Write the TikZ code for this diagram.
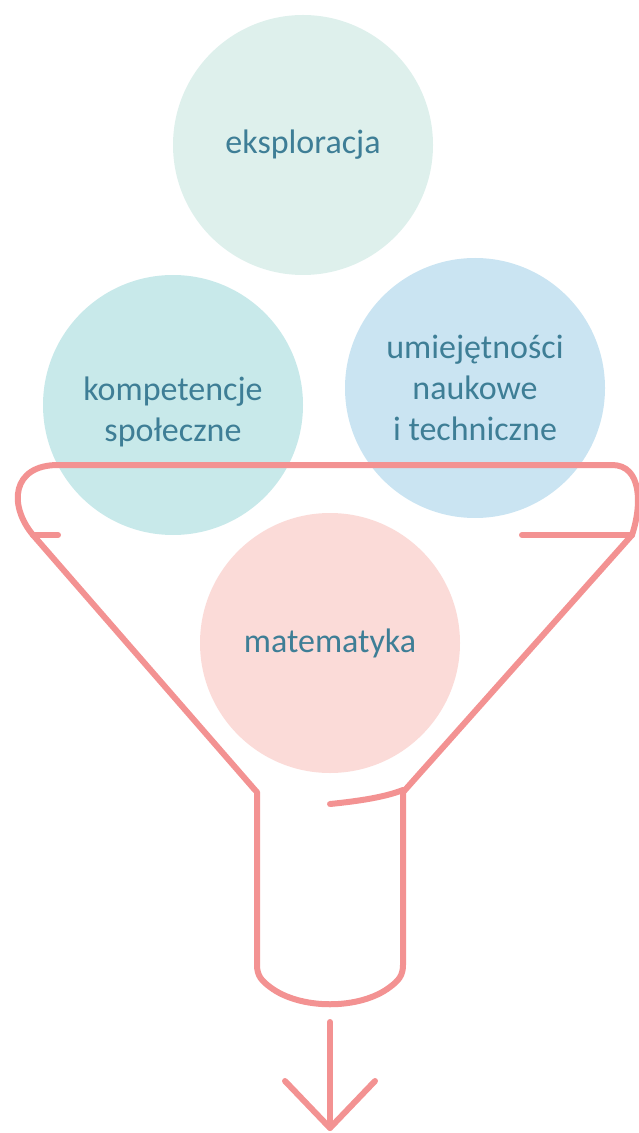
\documentclass[tikz,border=0pt]{standalone}
\usepackage{fontspec}
\setmainfont{Carlito}
\usetikzlibrary{positioning, arrows.meta}
\tikzset{
    >=Stealth,
    every node/.style={rounded corners=2pt}
}

\begin{document}
\begin{tikzpicture}[x=0.5pt, y=-0.5pt]
  % soft pastel colours (RGB)
  \definecolor{exploColor}{RGB}{222,240,236}  % mint
  \definecolor{socialColor}{RGB}{200,233,234} % aqua
  \definecolor{techColor}{RGB}{202,228,242}   % sky
  \definecolor{mathColor}{RGB}{251,219,216}   % blush
  \definecolor{funnelColor}{RGB}{243,146,146} % salmon
  \definecolor{labelColor}{RGB}{62,126,150}   % teal-blue text

  % common styles
  \tikzset{
    skill/.style={
      circle,
      minimum size=130pt,
      draw=none,
      align=center,
      inner sep=0pt,
      text=labelColor,
      font=\fontsize{17}{20.3}\selectfont
    },
    skilltext/.style={
      align=center,
      text=labelColor,
      font=\fontsize{17}{20.3}\selectfont
    },
    funnel/.style={
      draw=funnelColor,
      line width=3pt,
      line cap=round,
      line join=round
    }
  }

  \useasboundingbox (0,0) rectangle (638,1133);

  % the four circles
  \node[skill, fill=exploColor]  (explo)  at (303,145) {eksploracja};
  \node[skill, fill=socialColor,
        label={[skilltext, yshift=-3.5pt]center:kompetencje\\społeczne}]
        (social) at (173,405) {};
  \node[skill, fill=techColor]   (tech)   at (475,388) {umiejętności\\naukowe\\i techniczne};
  \node[skill, fill=mathColor]   (math)   at (330,643) {matematyka};

  % funnel rim
  \draw[funnel] (33,535) .. controls (8,505) and (12,465) .. (58,465)
    -- (612,465) .. controls (642,465) and (642,505) .. (632,535);
  \draw[funnel] (33,535) -- (58,535);
  \draw[funnel] (522,535) -- (632,535);

  % funnel body and spout
  \draw[funnel] (33,535) -- (255,790) -- (257,792) -- (257,965)
    .. controls (257,976) and (262,981) .. (270,987)
    .. controls (300,1010) and (360,1010) .. (390,987)
    .. controls (398,981) and (403,976) .. (403,965)
    -- (403,792) -- (405,790) -- (632,535);
  \draw[funnel] (330,804) .. controls (360,801) and (385,797) .. (403,790);

  % outflow arrow
  \coordinate (outTop) at (330,1022);
  \coordinate (outTip) at (330,1128);
  \coordinate (headL) at (285,1081);
  \coordinate (headR) at (375,1081);
  \draw[funnel] (outTop) -- (outTip);
  \draw[funnel] (headL) -- (outTip) -- (headR);
\end{tikzpicture}
\end{document}
